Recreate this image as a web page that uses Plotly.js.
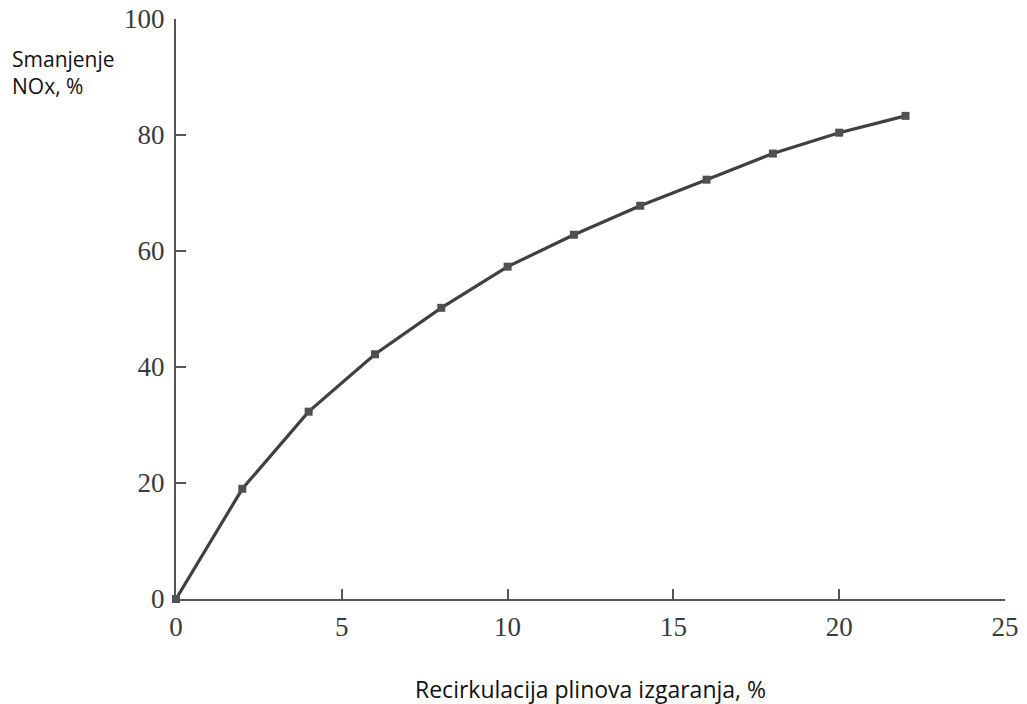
<!DOCTYPE html>
<html>
<head>
<meta charset="utf-8">
<script src="https://cdn.plot.ly/plotly-3.0.1.min.js"></script>
<style>html,body{margin:0;padding:0;background:#fff;}#chart{width:1027px;height:704px;}</style>
</head>
<body>
<div id="chart"></div>
<script>
const recirculation = [0, 2, 4, 6, 8, 10, 12, 14, 16, 18, 20, 22];
const noxReduction = [0, 19, 32.3, 42.2, 50.2, 57.3, 62.8, 67.8, 72.3, 76.8, 80.4, 83.3];
const xTicks = [0, 5, 10, 15, 20, 25];
const yTicks = [0, 20, 40, 60, 80, 100];
const xLabel = 'Recirkulacija plinova izgaranja, %';
const yLabel = 'Smanjenje<br>NOx, %';

const trace = {
  x: recirculation, y: noxReduction, type: 'scatter', mode: 'lines+markers',
  line: {color: '#404040', width: 3.2},
  marker: {symbol: 'square', size: 8, color: '#505050'},
  cliponaxis: false, hoverinfo: 'none'
};
const axisCommon = {
  showgrid: false, zeroline: false, showline: true, linecolor: '#555', linewidth: 2,
  ticks: 'inside', ticklen: 10, tickwidth: 2, tickcolor: '#555',
  tickfont: {family: 'Liberation Serif, serif', size: 27, color: '#3a3a3a'}
};
const layout = {
  width: 1027, height: 704,
  margin: {l: 176, r: 22, t: 19, b: 105},
  paper_bgcolor: '#fff', plot_bgcolor: '#fff',
  showlegend: false,
  xaxis: Object.assign({}, axisCommon, {range: [0, 25], tickvals: xTicks, ticktext: xTicks.map(String), ticklabelstandoff: 3}),
  yaxis: Object.assign({}, axisCommon, {range: [0, 100], tickvals: yTicks, ticktext: yTicks.map(String), ticklabelstandoff: 4}),
  annotations: [
    {text: xLabel, xref: 'paper', yref: 'paper', x: 0.5, y: 0, yshift: -90, xanchor: 'center', yanchor: 'middle',
     showarrow: false, font: {family: 'Open Sans, sans-serif', size: 23, color: '#111'}},
    {text: yLabel, xref: 'paper', yref: 'paper', x: 0, xshift: -166, y: 1, yshift: -53, xanchor: 'left', yanchor: 'middle', align: 'left',
     showarrow: false, font: {family: 'Open Sans, sans-serif', size: 21, color: '#111'}}
  ]
};
Plotly.newPlot('chart', [trace], layout, {staticPlot: true});
</script>
</body>
</html>
